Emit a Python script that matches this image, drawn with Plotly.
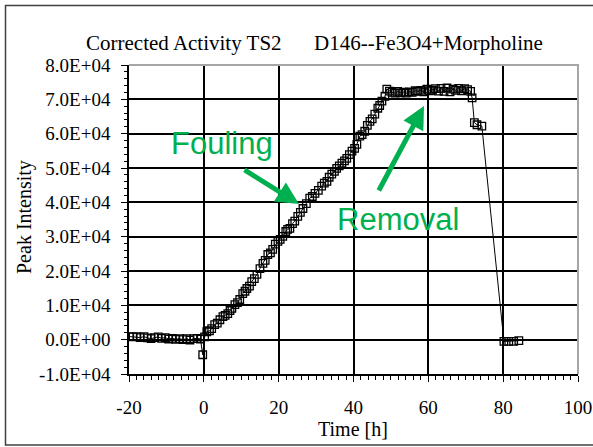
import plotly.graph_objects as go

# ---- data ----
time_h = [
    -19.8, -18.9, -17.9, -17.0, -16.0, -15.1, -14.1, -13.2, -12.2, -11.3, -10.3, -9.4,
    -8.4, -7.5, -6.5, -5.6, -4.6, -3.7, -2.7, -1.8, -0.9, -0.3,
    0.2, 0.8, 1.5, 2.1, 2.9, 3.6, 4.3, 5.1, 5.7, 6.4, 7.0, 7.5, 8.3, 9.0, 9.6, 10.4,
    11.0, 11.5, 12.2, 12.8, 13.5, 14.2, 15.0, 15.8, 16.4, 17.1, 17.8, 18.4, 19.1, 19.8,
    20.4, 21.1, 21.9, 22.4, 23.0, 23.7, 24.3, 25.1, 25.8, 26.5, 27.4, 28.3, 29.0, 29.7,
    30.6, 31.5, 32.2, 32.9, 33.5, 34.2, 34.9, 35.5, 36.2, 36.9, 37.6, 38.2, 38.9, 39.6,
    40.3, 40.9, 41.7, 42.3, 43.0, 43.7, 44.4, 45.0, 45.7, 46.5, 47.0, 47.6, 48.4, 48.9,
    49.6, 50.3, 51.1, 51.8, 52.6, 53.4, 54.1, 54.9, 55.7, 56.5, 57.2, 58.0, 58.8, 59.6,
    60.3, 61.1, 61.9, 62.7, 63.4, 64.2, 65.0, 65.8, 66.6, 67.3, 68.1, 68.9, 69.7, 70.5,
    71.3, 71.7, 72.3, 73.0, 74.3,
    80.2, 81.5, 82.8, 84.2,
]
peak_intensity = [
    900, 800, 900, 600, 900, 500, 300, 600, 800, 400, 600, 200,
    400, 100, 300, 0, 300, -100, 300, 400, 200, -4400,
    800, 2300, 2600, 3200, 4400, 4800, 5800, 6700, 7100, 7600, 8500, 9100, 10200, 10800, 11700, 13400,
    14100, 14900, 15600, 16900, 17800, 19000, 20700, 22200, 23100, 24800, 25300, 26300, 27800, 28600,
    29200, 30100, 31500, 32100, 32400, 33800, 34500, 35900, 37100, 38200, 39600, 41200, 41700, 42600,
    43500, 44700, 45600, 46100, 47300, 48200, 49000, 49900, 50600, 51400, 52100, 52800, 53900, 54900,
    55700, 56900, 59300, 59700, 60700, 62400, 63600, 64300, 65700, 67400, 68200, 69500, 70900, 73000,
    72400, 72000, 71800, 72300, 71900, 72100, 71800, 72200, 72000, 72500, 72300, 72600, 72200, 73000,
    72500, 72700, 73100, 72400, 73200, 72300, 73300, 72200, 73000, 72600, 73200, 72500, 73100, 72800,
    72300, 70400, 63200, 62600, 62200,
    -500, -500, -500, -300,
]

x_ticks = [-20, 0, 20, 40, 60, 80, 100]
x_tick_labels = ["-20", "0", "20", "40", "60", "80", "100"]
y_ticks = [-10000, 0, 10000, 20000, 30000, 40000, 50000, 60000, 70000, 80000]
y_tick_labels = ["-1.0E+04", "0.0E+00", "1.0E+04", "2.0E+04", "3.0E+04",
                 "4.0E+04", "5.0E+04", "6.0E+04", "7.0E+04", "8.0E+04"]

title_left = "Corrected Activity TS2"
title_right = "D146--Fe3O4+Morpholine"
x_title = "Time [h]"
y_title = "Peak Intensity"

# ---- layout geometry (pixels) ----
W, H = 593, 447
L, R, T, B = 129, 578, 65, 374
PW, PH = R - L, B - T


def px(xp):
    return (xp - L) / PW


def py(yp):
    return (B - yp) / PH


SERIF = "Liberation Serif, Times New Roman, serif"
SANS = "Liberation Sans, Arial, sans-serif"
GREEN = "#00B050"

fig = go.Figure()
fig.add_trace(go.Scatter(
    x=time_h, y=peak_intensity, mode="lines+markers",
    line=dict(color="black", width=1),
    marker=dict(symbol="square-open", size=7.5, color="black", line=dict(width=1.3)),
    showlegend=False,
))

axis_common = dict(
    showgrid=True, gridcolor="black", gridwidth=1.5,
    showline=True, linecolor="black", linewidth=1.5,
    zeroline=False, ticks="outside", tickcolor="black", ticklen=6, tickwidth=1.2,
    tickfont=dict(family=SERIF, size=19, color="black"),
    automargin=False,
)

fig.update_xaxes(
    range=[-20, 100], tickmode="array", tickvals=x_ticks, ticktext=x_tick_labels,
    ticklabelstandoff=9,
    minor=dict(tickmode="linear", tick0=0, dtick=2, ticks="outside", ticklen=4,
               tickcolor="black", showgrid=False),
    **axis_common,
)
fig.update_yaxes(
    range=[-10000, 80000], tickmode="array", tickvals=y_ticks, ticktext=y_tick_labels,
    ticklabelstandoff=7,
    minor=dict(tickmode="linear", tick0=0, dtick=2000, ticks="outside", ticklen=3,
               tickcolor="black", showgrid=False),
    **axis_common,
)

shapes = []
# white boxes behind the text labels (cover grid lines)
shapes.append(dict(type="rect", xref="paper", yref="paper",
                   x0=px(155), x1=px(290), y0=py(168), y1=py(117),
                   fillcolor="white", line=dict(width=0), layer="between"))
shapes.append(dict(type="rect", xref="paper", yref="paper",
                   x0=px(310), x1=px(490), y0=py(246), y1=py(183),
                   fillcolor="white", line=dict(width=0), layer="between"))
# gray top/right plot border
shapes.append(dict(type="path", xref="paper", yref="paper",
                   path="M 0,1 L 1,1 L 1,0", line=dict(color="#A6A6A6", width=2),
                   layer="above"))
# outer chart border
shapes.append(dict(type="path", xref="paper", yref="paper",
                   path=f"M {px(605)},{py(5.5)} L {px(5.5)},{py(5.5)} L {px(5.5)},{py(445)} L {px(605)},{py(445)}",
                   line=dict(color="#404040", width=1.5), layer="above"))


def label(text, xp, yp, font, **kw):
    return dict(text=text, xref="paper", yref="paper", x=px(xp), y=py(yp),
                xanchor="center", yanchor="middle", showarrow=False, font=font, **kw)


title_font = dict(family=SERIF, size=21, color="black")
axis_title_font = dict(family=SERIF, size=20, color="black")
green_font = dict(family=SANS, size=31, color=GREEN)

annotations = [
    label(title_left, 184, 43, title_font),
    label(title_right, 428, 43, title_font),
    label(x_title, 353, 429, axis_title_font),
    label(y_title, 24, 217, axis_title_font, textangle=-90),
    label("Fouling", 222, 143, green_font),
    label("Removal", 398, 219, green_font),
    # arrows
    dict(text="", xref="paper", yref="paper", x=px(299), y=py(204),
         ax=-56, ay=-35, showarrow=True, arrowhead=2, arrowsize=0.9,
         arrowwidth=5, arrowcolor=GREEN),
    dict(text="", xref="paper", yref="paper", x=px(424), y=py(106),
         ax=-46, ay=86, showarrow=True, arrowhead=2, arrowsize=0.9,
         arrowwidth=5, arrowcolor=GREEN),
]

fig.update_layout(
    width=W, height=H,
    margin=dict(l=L, r=W - R, t=T, b=H - B),
    paper_bgcolor="white", plot_bgcolor="white",
    shapes=shapes, annotations=annotations,
    showlegend=False,
)

fig.write_html("out.html")
